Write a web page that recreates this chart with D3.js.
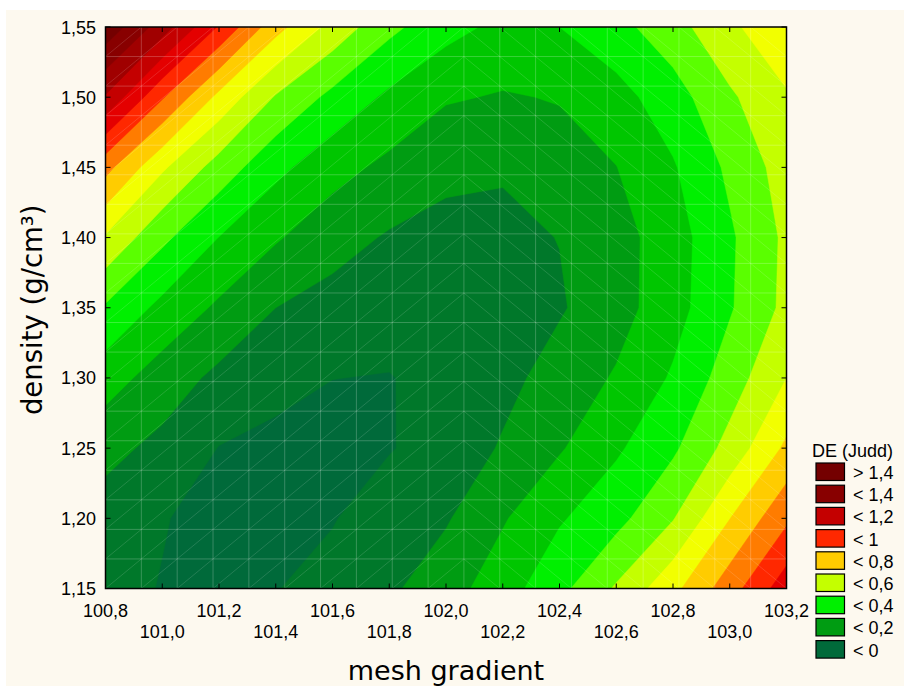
<!DOCTYPE html>
<html>
<head>
<meta charset="utf-8">
<script src="https://cdn.jsdelivr.net/npm/d3@7"></script>
<style>
  body { margin: 0; background: #ffffff; }
  svg { display: block; }
</style>
</head>
<body>
<svg id="chart" width="904" height="686"></svg>
<script>
// grid of the fitted surface
const xValues = [100.8, 101.0, 101.2, 101.4, 101.6, 101.8, 102.0, 102.2, 102.4, 102.6, 102.8, 103.0, 103.2];
const yValues = [1.55, 1.50, 1.45, 1.40, 1.35, 1.30, 1.25, 1.20, 1.15]; // top row first
const deGrid = [
  [1.47, 1.25, 0.99, 0.735, 0.566, 0.425, 0.334, 0.275, 0.30, 0.368, 0.46, 0.582, 0.67],
  [1.19, 0.91, 0.672, 0.491, 0.373, 0.28, 0.21, 0.192, 0.206, 0.263, 0.356, 0.484, 0.59],
  [0.833, 0.615, 0.457, 0.326, 0.236, 0.175, 0.119, 0.108, 0.156, 0.198, 0.29, 0.42, 0.545],
  [0.588, 0.422, 0.298, 0.21, 0.138, 0.09, 0.075, 0.08, 0.102, 0.16, 0.255, 0.385, 0.52],
  [0.388, 0.273, 0.183, 0.10, 0.064, 0.044, 0.045, 0.065, 0.09, 0.16, 0.26, 0.39, 0.525],
  [0.245, 0.153, 0.076, 0.036, 0.001, -0.004, 0.03, 0.07, 0.141, 0.21, 0.312, 0.448, 0.60],
  [0.13, 0.073, -0.003, -0.03, -0.04, -0.005, 0.035, 0.11, 0.19, 0.285, 0.383, 0.534, 0.72],
  [0.055, 0.005, -0.03, -0.04, -0.005, 0.045, 0.09, 0.19, 0.289, 0.368, 0.494, 0.698, 0.88],
  [0.028, -0.004, -0.014, -0.003, 0.029, 0.083, 0.158, 0.255, 0.372, 0.512, 0.672, 0.855, 1.058]
];

const levels = [0, 0.1, 0.2, 0.3, 0.4, 0.5, 0.6, 0.7, 0.8, 0.9, 1.0, 1.1, 1.2, 1.3, 1.4];
// one colour per band, lowest first (below 0 ... above 1.4)
const bandColors = ["#006a3a", "#00782a", "#009c12", "#00c600", "#00f000", "#5aff00", "#c4ff00", "#f2ff00",
  "#ffcc00", "#ff7c00", "#ff2800", "#e40000", "#c40000", "#a00000", "#880000", "#740000"];

const legendLabels = ["> 1,4", "< 1,4", "< 1,2", "< 1", "< 0,8", "< 0,6", "< 0,4", "< 0,2", "< 0"];
const legendColors = ["#740000", "#880000", "#c40000", "#ff2800", "#ffcc00", "#c4ff00", "#00f000", "#009c12", "#006a3a"];

const xTicks = [100.8, 101.0, 101.2, 101.4, 101.6, 101.8, 102.0, 102.2, 102.4, 102.6, 102.8, 103.0, 103.2];
const yTicks = [1.15, 1.20, 1.25, 1.30, 1.35, 1.40, 1.45, 1.50, 1.55];

const svg = d3.select("#chart");
const W = +svg.attr("width");
const H = +svg.attr("height");

const pl = 105.5, pr = 786.5, pt = 27, pb = 588.5;
const x = d3.scaleLinear().domain([100.8, 103.2]).range([pl, pr]);
const y = d3.scaleLinear().domain([1.15, 1.55]).range([pb, pt]);

const tickFont = "'Liberation Sans', Arial, sans-serif";
const titleFont = "'DejaVu Sans', Verdana, sans-serif";
const comma = s => s.replace(".", ",");

// page background (white strip top/left, cream panel)
svg.append("rect").attr("width", W).attr("height", H).attr("fill", "#ffffff");
svg.append("rect").attr("x", 6).attr("y", 10).attr("width", W - 6).attr("height", H - 10).attr("fill", "#fdf9ef");

svg.append("clipPath").attr("id", "plot-clip")
  .append("rect").attr("x", pl).attr("y", pt).attr("width", pr - pl).attr("height", pb - pt);

const plot = svg.append("g").attr("clip-path", "url(#plot-clip)");

// contour bands
const nx = xValues.length, ny = yValues.length;
const gx = d3.scaleLinear().domain([0.5, nx - 0.5]).range([x(xValues[0]), x(xValues[nx - 1])]);
const gy = d3.scaleLinear().domain([0.5, ny - 0.5]).range([y(yValues[0]), y(yValues[ny - 1])]);
const proj = d3.geoTransform({
  point(px, py) { this.stream.point(gx(px), gy(py)); }
});
const path = d3.geoPath(proj);

const bands = d3.contours().size([nx, ny]).thresholds(levels)(deGrid.flat());

plot.append("rect")
  .attr("x", pl).attr("y", pt).attr("width", pr - pl).attr("height", pb - pt)
  .attr("fill", bandColors[0]);

plot.selectAll("path.band")
  .data(bands)
  .join("path")
  .attr("class", "band")
  .attr("d", path)
  .attr("fill", (d, i) => bandColors[i + 1])
  .attr("stroke", (d, i) => bandColors[i + 1])
  .attr("stroke-width", 0.5);

// faint mesh of the surface (20 x 20 nodes, triangulated)
const meshX = d3.scaleLinear().domain([0, 19]).range([pl, pr]);
const meshY = d3.scaleLinear().domain([0, 19]).range([pt, pb]);
const mesh = plot.append("g").attr("stroke", "#ffffff").attr("fill", "none");
d3.range(1, 19).forEach(k => {
  mesh.append("line").attr("x1", meshX(k)).attr("x2", meshX(k)).attr("y1", pt).attr("y2", pb)
    .attr("stroke-opacity", 0.28).attr("stroke-width", 0.8);
  mesh.append("line").attr("y1", meshY(k)).attr("y2", meshY(k)).attr("x1", pl).attr("x2", pr)
    .attr("stroke-opacity", 0.28).attr("stroke-width", 0.8);
});
d3.range(19).forEach(i => {
  d3.range(19).forEach(j => {
    const l = mesh.append("line").attr("stroke-opacity", 0.2).attr("stroke-width", 0.7);
    if (i < 10) {
      l.attr("x1", meshX(i)).attr("y1", meshY(j + 1)).attr("x2", meshX(i + 1)).attr("y2", meshY(j));
    } else {
      l.attr("x1", meshX(i)).attr("y1", meshY(j)).attr("x2", meshX(i + 1)).attr("y2", meshY(j + 1));
    }
  });
});

// frame and inward ticks
const axes = svg.append("g").attr("stroke", "#000");
xTicks.forEach(t => {
  axes.append("line").attr("x1", x(t)).attr("x2", x(t)).attr("y1", pb).attr("y2", pb - 5);
  axes.append("line").attr("x1", x(t)).attr("x2", x(t)).attr("y1", pt).attr("y2", pt + 5);
});
yTicks.forEach(t => {
  axes.append("line").attr("y1", y(t)).attr("y2", y(t)).attr("x1", pl).attr("x2", pl + 5);
  axes.append("line").attr("y1", y(t)).attr("y2", y(t)).attr("x1", pr).attr("x2", pr - 5);
});
axes.append("rect")
  .attr("x", pl).attr("y", pt).attr("width", pr - pl).attr("height", pb - pt)
  .attr("fill", "none").attr("stroke-width", 1.5);

// tick labels, x in two staggered rows
svg.append("g").selectAll("text")
  .data(xTicks)
  .join("text")
  .attr("x", d => x(d))
  .attr("y", (d, i) => i % 2 === 0 ? 617 : 638)
  .attr("text-anchor", "middle")
  .attr("font-family", tickFont)
  .attr("font-size", 18)
  .attr("fill", "#000")
  .text(d => comma(d3.format(".1f")(d)));

svg.append("g").selectAll("text")
  .data(yTicks)
  .join("text")
  .attr("x", 96)
  .attr("y", d => y(d) + 6.5)
  .attr("text-anchor", "end")
  .attr("font-family", tickFont)
  .attr("font-size", 18)
  .attr("fill", "#000")
  .text(d => comma(d3.format(".2f")(d)));

// axis titles
svg.append("text")
  .attr("x", (pl + pr) / 2)
  .attr("y", 680)
  .attr("text-anchor", "middle")
  .attr("font-family", titleFont)
  .attr("font-size", 27)
  .text("mesh gradient");

svg.append("text")
  .attr("transform", `translate(42,${(pt + pb) / 2 + 2}) rotate(-90)`)
  .attr("text-anchor", "middle")
  .attr("font-family", titleFont)
  .attr("font-size", 27.5)
  .text("density (g/cm³)");

// legend
const legend = svg.append("g");
legend.append("text")
  .attr("x", 812).attr("y", 457)
  .attr("font-family", tickFont).attr("font-size", 18)
  .text("DE (Judd)");

const item = legend.selectAll("g.item")
  .data(legendLabels)
  .join("g")
  .attr("class", "item")
  .attr("transform", (d, i) => `translate(0,${463 + i * 22.2})`);

item.append("rect")
  .attr("x", 816).attr("y", 0).attr("width", 28.5).attr("height", 17.5)
  .attr("fill", (d, i) => legendColors[i])
  .attr("stroke", "#000").attr("stroke-width", 1.2);

item.append("text")
  .attr("x", 853).attr("y", 16)
  .attr("font-family", tickFont).attr("font-size", 18)
  .text(d => d);
</script>
</body>
</html>
